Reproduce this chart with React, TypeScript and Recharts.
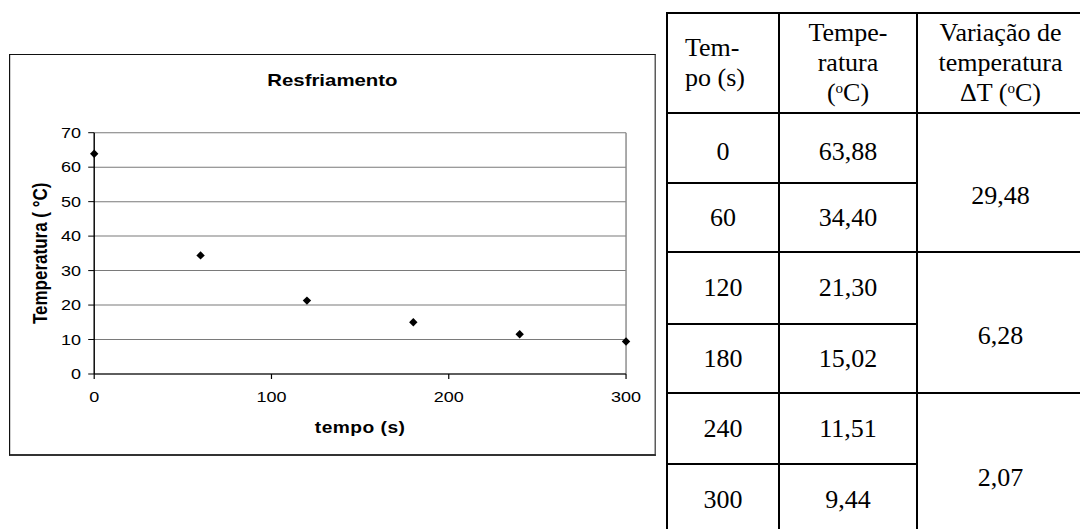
import React from 'react';
import { ScatterChart, Scatter, XAxis, YAxis, CartesianGrid, ReferenceLine, Label } from 'recharts';

// ---- data ----
const times = [0, 60, 120, 180, 240, 300];
const temps = [63.88, 34.4, 21.3, 15.02, 11.51, 9.44];
const deltas = [29.48, 6.28, 2.07];
const xTicks = [0, 100, 200, 300];
const yTicks = [0, 10, 20, 30, 40, 50, 60, 70];
const chartTitle = 'Resfriamento';
const xLabel = 'tempo (s)';
const yLabel = 'Temperatura ( °C)';
const headerTime = ['Tem-', 'po (s)'];
const headerTemp = ['Tempe-', 'ratura'];
const headerDelta = ['Variação de', 'temperatura', 'ΔT'];

const points = times.map((t, i) => ({ t, temp: temps[i] }));
const fmt = (v: number) => v.toFixed(2).replace('.', ',');

// ---- layout ----
const SCALE_X = 1.2;
const CHART_W = 539;
const CHART_H = 402;
const SANS = '"Liberation Sans", Arial, sans-serif';
const SERIF = '"Liberation Serif", "Times New Roman", serif';

const colX = [667, 779, 917, 1084];
const headTop = 12.7;
const rowY = [113, 183, 252, 324, 393, 464, 536];

const Diamond = (props: any) => {
  const { cx, cy } = props;
  if (cx == null || cy == null) return null;
  const w = 3.5, h = 4.2;
  return <polygon points={`${cx},${cy - h} ${cx + w},${cy} ${cx},${cy + h} ${cx - w},${cy}`} fill="#000" />;
};

const Deg = () => (
  <span style={{ fontSize: '0.58em', position: 'relative', top: '-0.55em', lineHeight: 0 }}>o</span>
);

const HLine = ({ y, x1, x2 }: { y: number; x1: number; x2: number }) => (
  <div style={{ position: 'absolute', left: x1 - 1, top: y - 1, width: x2 - x1 + 2, height: 2, background: '#000' }} />
);
const VLine = ({ x, y1, y2 }: { x: number; y1: number; y2: number }) => (
  <div style={{ position: 'absolute', left: x - 1, top: y1 - 1, width: 2, height: y2 - y1 + 2, background: '#000' }} />
);

const Cell = ({ x1, x2, y1, y2, children, padTop = 0, align = 'center', padLeft = 0 }: any) => (
  <div
    style={{
      position: 'absolute',
      left: x1,
      top: y1,
      width: x2 - x1,
      height: y2 - y1,
      display: 'flex',
      flexDirection: 'column',
      alignItems: align === 'left' ? 'flex-start' : 'center',
      justifyContent: 'center',
      textAlign: align,
      fontFamily: SERIF,
      fontSize: 26,
      lineHeight: '30px',
      color: '#000',
      paddingTop: padTop,
      paddingLeft: padLeft,
      boxSizing: 'border-box',
    }}
  >
    {children}
  </div>
);

export default function App() {
  return (
    <div style={{ position: 'absolute', left: 0, top: 0, width: 1080, height: 529, overflow: 'hidden', background: '#fff' }}>
      {/* Chart (embedded picture, stretched horizontally) */}
      <div
        style={{
          position: 'absolute',
          left: 9,
          top: 54,
          width: CHART_W,
          height: CHART_H,
          transform: `scaleX(${SCALE_X})`,
          transformOrigin: '0 0',
        }}
      >
        <ScatterChart
          width={CHART_W}
          height={CHART_H}
          margin={{ top: 78.7, right: 24.8, bottom: 52, left: 0 }}
          style={{ fontFamily: SANS }}
        >
          <CartesianGrid vertical={false} stroke="#7a7a7a" strokeWidth={1} />
          <ReferenceLine x={300} stroke="#8a8a8a" strokeWidth={1.2} />
          <XAxis
            type="number"
            dataKey="t"
            domain={[0, 300]}
            ticks={xTicks}
            interval={0}
            height={30}
            tickSize={5}
            tickMargin={12.6}
            axisLine={{ stroke: '#000', strokeWidth: 1.2 }}
            tickLine={{ stroke: '#000' }}
            tick={{ fontSize: 15, fill: '#000', fontFamily: SANS }}
          >
            <Label
              value={xLabel}
              position="bottom"
              offset={18}
              style={{ fontSize: 16, fontWeight: 'bold', fill: '#000', fontFamily: SANS, letterSpacing: 0.4 }}
            />
          </XAxis>
          <YAxis
            type="number"
            dataKey="temp"
            domain={[0, 70]}
            ticks={yTicks}
            interval={0}
            width={71}
            tickSize={5}
            tickMargin={6}
            axisLine={{ stroke: '#000', strokeWidth: 1.2 }}
            tickLine={{ stroke: '#000' }}
            tick={{ fontSize: 15, fill: '#000', fontFamily: SANS }}
          >
            <Label
              value={yLabel}
              angle={-90}
              position="insideLeft"
              offset={26}
              style={{ textAnchor: 'middle', fontSize: 17, fontWeight: 'bold', fill: '#000', fontFamily: SANS }}
            />
          </YAxis>
          <Scatter data={points} shape={Diamond} isAnimationActive={false} />
        </ScatterChart>
        <div
          style={{
            position: 'absolute',
            left: 0,
            top: 17,
            width: CHART_W,
            textAlign: 'center',
            fontFamily: SANS,
            fontWeight: 'bold',
            fontSize: 17,
            lineHeight: '20px',
            color: '#000',
          }}
        >
          {chartTitle}
        </div>
        <div
          style={{
            position: 'absolute',
            left: 0,
            top: 0,
            width: CHART_W,
            height: CHART_H,
            borderTop: '1.5px solid #111',
            borderLeft: '1.5px solid #111',
            borderRight: '1.8px solid #333',
            borderBottom: '2px solid #333',
            boxSizing: 'border-box',
            pointerEvents: 'none',
          }}
        />
      </div>

      {/* Table */}
      <Cell x1={colX[0]} x2={colX[1]} y1={headTop} y2={rowY[0]} align="left" padLeft={18}>
        {headerTime.map((s) => (
          <div key={s}>{s}</div>
        ))}
      </Cell>
      <Cell x1={colX[1]} x2={colX[2]} y1={headTop} y2={rowY[0]}>
        {headerTemp.map((s) => (
          <div key={s}>{s}</div>
        ))}
        <div>
          (<Deg />C)
        </div>
      </Cell>
      <Cell x1={colX[2]} x2={colX[3]} y1={headTop} y2={rowY[0]}>
        <div>{headerDelta[0]}</div>
        <div>{headerDelta[1]}</div>
        <div>
          {headerDelta[2]} (<Deg />C)
        </div>
      </Cell>

      {times.map((t, i) => (
        <Cell key={'t' + t} x1={colX[0]} x2={colX[1]} y1={rowY[i]} y2={rowY[i + 1]} padTop={i === 0 ? 8 : 0}>
          {String(t)}
        </Cell>
      ))}
      {temps.map((v, i) => (
        <Cell key={'v' + i} x1={colX[1]} x2={colX[2]} y1={rowY[i]} y2={rowY[i + 1]} padTop={i === 0 ? 8 : 0}>
          {fmt(v)}
        </Cell>
      ))}
      {deltas.map((d, k) => (
        <Cell key={'d' + k} x1={colX[2]} x2={colX[3]} y1={rowY[2 * k]} y2={rowY[2 * k + 2]} padTop={26}>
          {fmt(d)}
        </Cell>
      ))}

      {/* table rules */}
      <HLine y={headTop} x1={colX[0]} x2={colX[3]} />
      <HLine y={rowY[0]} x1={colX[0]} x2={colX[3]} />
      {[1, 3, 5].map((r) => (
        <HLine key={'p' + r} y={rowY[r]} x1={colX[0]} x2={colX[2]} />
      ))}
      {[2, 4].map((r) => (
        <HLine key={'f' + r} y={rowY[r]} x1={colX[0]} x2={colX[3]} />
      ))}
      {colX.map((x) => (
        <VLine key={'v' + x} x={x} y1={headTop} y2={rowY[6]} />
      ))}
    </div>
  );
}
